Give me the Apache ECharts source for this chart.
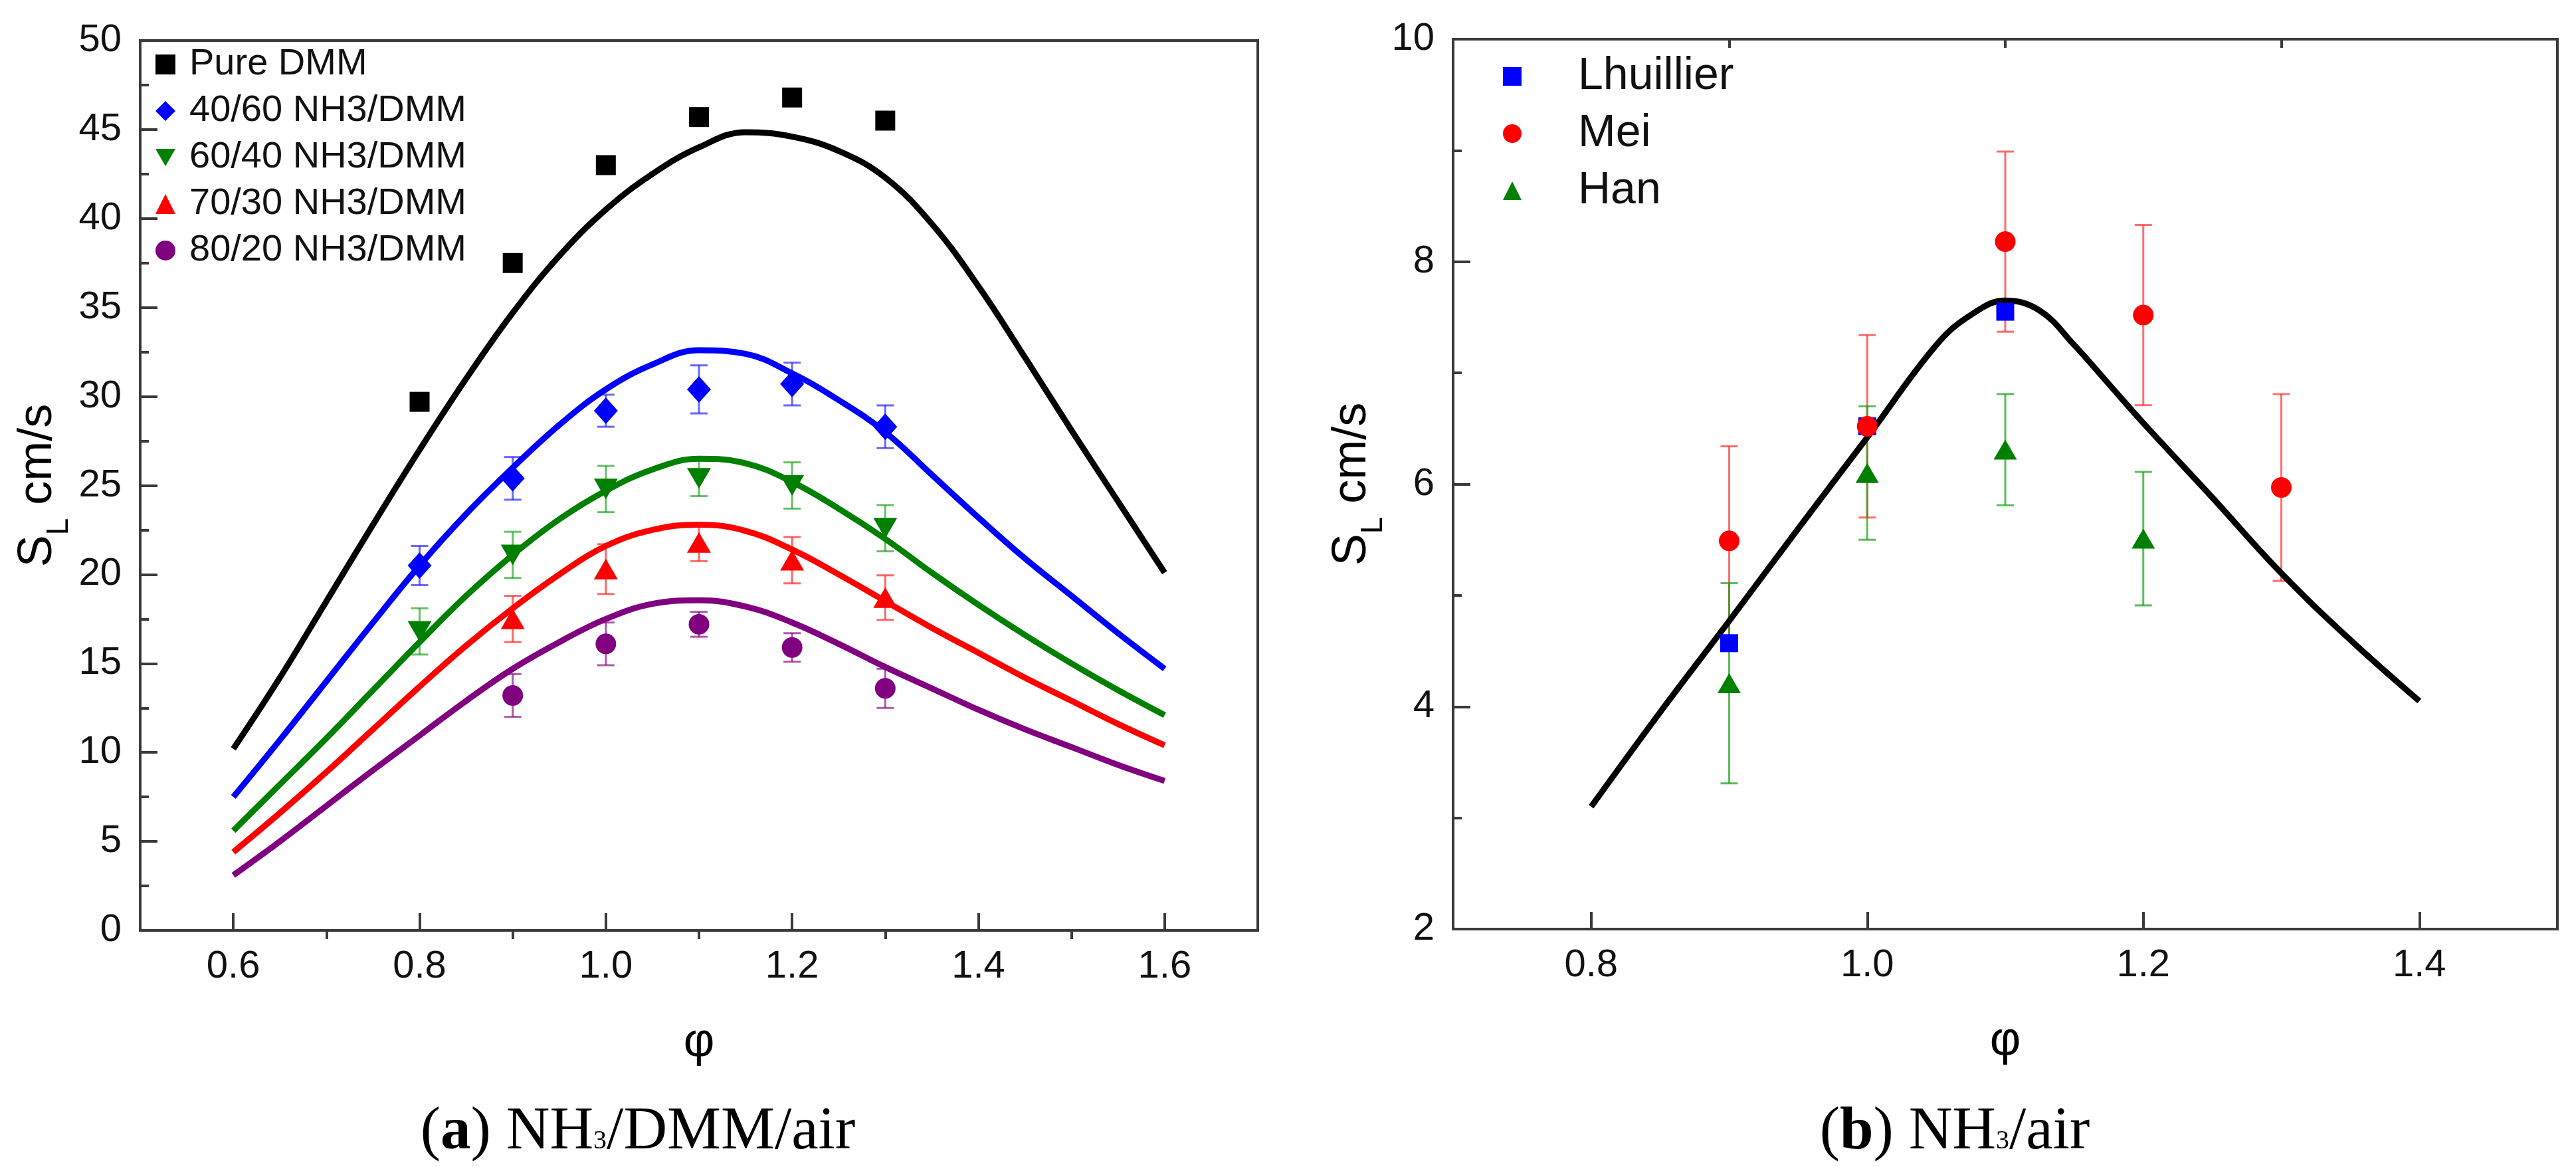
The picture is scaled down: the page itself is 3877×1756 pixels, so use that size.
<!DOCTYPE html>
<html>
<head>
<meta charset="utf-8">
<script src="https://cdn.jsdelivr.net/npm/echarts@6/dist/echarts.min.js"></script>
<style>
  html, body { margin: 0; padding: 0; background: #fff; }
  #chart { width: 3877px; height: 1756px; }
</style>
</head>
<body>
<div id="chart"></div>
<script>
// ---- panel (a): NH3/DMM/air ----
const phiCalcA = [0.60, 0.65, 0.70, 0.75, 0.80, 0.85, 0.90, 0.95, 1.00, 1.05, 1.10, 1.15, 1.20, 1.25, 1.30, 1.35, 1.40, 1.45, 1.50, 1.55, 1.60];
const calcPure  = [10.2, 14.2, 18.5, 22.8, 27.0, 31.0, 34.7, 37.9, 40.5, 42.5, 44.0, 44.85, 44.6, 43.8, 42.3, 39.7, 36.2, 32.2, 28.1, 24.1, 20.1];
const calc4060  = [7.5, 10.7, 14.0, 17.3, 20.5, 23.4, 26.0, 28.4, 30.4, 31.8, 32.6, 32.4, 31.3, 29.8, 28.0, 25.6, 23.2, 20.9, 18.8, 16.7, 14.7];
const calc6040  = [5.6, 8.2, 10.8, 13.5, 16.2, 18.8, 21.1, 23.1, 24.7, 25.9, 26.5, 26.25, 25.2, 23.7, 22.0, 20.1, 18.3, 16.6, 15.0, 13.5, 12.1];
const calc7030  = [4.4, 6.6, 8.9, 11.3, 13.7, 16.0, 18.1, 20.0, 21.6, 22.5, 22.8, 22.45, 21.4, 20.0, 18.5, 17.0, 15.6, 14.2, 12.9, 11.6, 10.4];
const calc8020  = [3.1, 5.0, 7.0, 9.0, 10.95, 12.9, 14.7, 16.2, 17.5, 18.35, 18.55, 18.2, 17.3, 16.1, 14.8, 13.6, 12.4, 11.3, 10.3, 9.3, 8.4];

const phiExpA6 = [0.8, 0.9, 1.0, 1.1, 1.2, 1.3];
const phiExpA5 = [0.9, 1.0, 1.1, 1.2, 1.3];
const expPure  = [29.7, 37.5, 43.0, 45.7, 46.8, 45.5];
const exp4060  = [20.5, 25.4, 29.2, 30.4, 30.7, 28.3];
const err4060  = [1.1, 1.2, 0.9, 1.35, 1.2, 1.2];
const exp6040  = [16.8, 21.1, 24.8, 25.4, 25.0, 22.6];
const err6040  = [1.3, 1.3, 1.3, 1.0, 1.3, 1.3];
const exp7030  = [17.5, 20.3, 21.8, 20.8, 18.7];
const err7030  = [1.3, 1.4, 1.05, 1.3, 1.25];
const exp8020  = [13.2, 16.1, 17.2, 15.9, 13.6];
const err8020  = [1.2, 1.2, 0.7, 0.8, 1.1];

const namesA = ['Pure DMM', '40/60 NH3/DMM', '60/40 NH3/DMM', '70/30 NH3/DMM', '80/20 NH3/DMM'];
const xLabelsA = [0.6, 0.8, 1.0, 1.2, 1.4, 1.6];
const xMinorA  = [0.7, 0.9, 1.1, 1.3, 1.5];

// ---- panel (b): NH3/air ----
const phiCalcB = [0.80, 0.85, 0.90, 0.95, 1.00, 1.05, 1.075, 1.10, 1.125, 1.15, 1.175, 1.20, 1.25, 1.30, 1.35, 1.40];
const calcB    = [3.10, 3.95, 4.77, 5.60, 6.42, 7.25, 7.52, 7.65, 7.56, 7.25, 6.90, 6.55, 5.88, 5.20, 4.60, 4.05];

const phiLhuillier = [0.9, 1.0, 1.1];
const slLhuillier  = [4.57, 6.52, 7.55];
const phiMei = [0.9, 1.0, 1.1, 1.2, 1.3];
const slMei  = [5.49, 6.52, 8.18, 7.52, 5.97];
const errMei = [0.85, 0.82, 0.81, 0.81, 0.84];
const phiHan = [0.9, 1.0, 1.1, 1.2];
const slHan  = [4.21, 6.10, 6.31, 5.51];
const errHan = [0.9, 0.6, 0.5, 0.6];

const namesB = ['Lhuillier', 'Mei', 'Han'];
const xLabelsB = [0.8, 1.0, 1.2, 1.4];
const xMinorB  = [0.9, 1.1, 1.3];

const zip = (xs, ys) => xs.map((x, i) => [x, ys[i]]);
const zip3 = (xs, ys, es) => xs.map((x, i) => [x, ys[i], es[i]]);

const AXIS = '#3a3a3a';
const SANS = 'Liberation Sans';
const SERIF = 'Liberation Serif';
const DOWN_TRI = 'path://M0,0L10,0L5,8.7Z';

function errorBars(color) {
  return function (params, api) {
    const x = api.value(0), y = api.value(1), e = api.value(2);
    const hi = api.coord([x, y + e]);
    const lo = api.coord([x, y - e]);
    const w = 13;
    const st = { stroke: color, lineWidth: 3 };
    return {
      type: 'group',
      children: [
        { type: 'line', shape: { x1: hi[0], y1: hi[1], x2: lo[0], y2: lo[1] }, style: st },
        { type: 'line', shape: { x1: hi[0] - w, y1: hi[1], x2: hi[0] + w, y2: hi[1] }, style: st },
        { type: 'line', shape: { x1: lo[0] - w, y1: lo[1], x2: lo[0] + w, y2: lo[1] }, style: st }
      ]
    };
  };
}

function errSeries(xi, yi, data, color) {
  return {
    type: 'custom', xAxisIndex: xi, yAxisIndex: yi, z: 1,
    renderItem: errorBars(color), data: data,
    encode: { x: 0, y: 1 }, silent: true
  };
}

function calcLine(xi, yi, name, data, color) {
  return {
    type: 'line', name: name, xAxisIndex: xi, yAxisIndex: yi, z: 2,
    data: data, showSymbol: false, smooth: 0.4,
    lineStyle: { color: color, width: 9 }, silent: true
  };
}

function points(xi, yi, name, data, color, symbol, size, z) {
  return {
    type: 'scatter', name: name, xAxisIndex: xi, yAxisIndex: yi, z: z || 3,
    data: data, symbol: symbol, symbolSize: size,
    itemStyle: { color: color, opacity: 1 }, silent: true
  };
}

const ynameRich = {
  s: { fontFamily: SANS, fontSize: 72, lineHeight: 80, verticalAlign: 'top', color: '#000' },
  l: { fontFamily: SANS, fontSize: 46, lineHeight: 46, verticalAlign: 'top', padding: [45, 0, 0, 0], color: '#000' }
};

function mainX(grid, min, max, labels) {
  return {
    type: 'value', gridIndex: grid, min: min, max: max,
    axisLine: { show: true, onZero: false, lineStyle: { color: AXIS, width: 4 } },
    axisTick: { show: true, inside: true, length: 26, customValues: labels, lineStyle: { color: AXIS, width: 4 } },
    axisLabel: { customValues: labels, formatter: v => v.toFixed(1), fontFamily: SANS, fontSize: 58, color: '#111', margin: 26 },
    splitLine: { show: false },
    name: 'φ', nameLocation: 'middle', nameGap: 133,
    nameTextStyle: { fontFamily: SANS, fontSize: 72, color: '#000' }
  };
}

function minorX(grid, min, max, ticks) {
  return {
    type: 'value', gridIndex: grid, min: min, max: max,
    axisLine: { show: false },
    axisTick: { show: true, inside: true, length: 13, customValues: ticks, lineStyle: { color: AXIS, width: 4 } },
    axisLabel: { show: false },
    splitLine: { show: false }
  };
}

function mainY(grid, min, max, interval, gap) {
  return {
    type: 'value', gridIndex: grid, min: min, max: max, interval: interval,
    axisLine: { show: true, onZero: false, lineStyle: { color: AXIS, width: 4 } },
    axisTick: { show: true, inside: true, length: 26, lineStyle: { color: AXIS, width: 4 } },
    minorTick: { show: true, splitNumber: 2, length: 13, lineStyle: { color: AXIS, width: 4 } },
    axisLabel: { fontFamily: SANS, fontSize: 58, color: '#111', margin: 28 },
    splitLine: { show: false },
    name: '{s|S}{l|L}{s| cm/s}', nameLocation: 'middle', nameGap: gap,
    nameTextStyle: { rich: ynameRich }
  };
}

const captionRich = {
  n: { fontFamily: SERIF, fontSize: 91, lineHeight: 104, verticalAlign: 'bottom', color: '#000' },
  a: { fontFamily: SERIF, fontSize: 91, lineHeight: 104, verticalAlign: 'bottom', fontWeight: 'bold', color: '#000' },
  s: { fontFamily: SERIF, fontSize: 40, lineHeight: 40, verticalAlign: 'bottom', padding: [0, 0, 13, 0], color: '#000' }
};

const option = {
  animation: false,
  backgroundColor: '#fff',
  grid: [
    { left: 211, top: 61, width: 1682, height: 1339, show: true, borderColor: AXIS, borderWidth: 4, backgroundColor: 'transparent' },
    { left: 2187, top: 59, width: 1662, height: 1339, show: true, borderColor: AXIS, borderWidth: 4, backgroundColor: 'transparent' }
  ],
  xAxis: [
    mainX(0, 0.5, 1.7, xLabelsA),
    minorX(0, 0.5, 1.7, xMinorA),
    mainX(1, 0.7, 1.5, xLabelsB),
    minorX(1, 0.7, 1.5, xMinorB)
  ],
  yAxis: [
    mainY(0, 0, 50, 5, 110),
    mainY(1, 2, 10, 2, 106)
  ],
  legend: [
    {
      data: namesA, orient: 'vertical', left: 229, top: 64,
      itemWidth: 30, itemHeight: 30, itemGap: 14, selectedMode: false,
      textStyle: { fontFamily: SANS, fontSize: 56, lineHeight: 56, color: '#111', padding: [0, 0, 0, 16] }
    },
    {
      data: namesB, orient: 'vertical', left: 2257, top: 76,
      itemWidth: 28, itemHeight: 28, itemGap: 18, selectedMode: false,
      textStyle: { fontFamily: SANS, fontSize: 68, lineHeight: 68, color: '#111', padding: [0, 0, 0, 80] }
    }
  ],
  graphic: [
    {
      type: 'text', x: 960, y: 1698, silent: true,
      style: { text: '{n|(}{a|a}{n|) NH}{s|3}{n|/DMM/air}', rich: captionRich, align: 'center', verticalAlign: 'middle' }
    },
    {
      type: 'text', x: 2942, y: 1698, silent: true,
      style: { text: '{n|(}{a|b}{n|) NH}{s|3}{n|/air}', rich: captionRich, align: 'center', verticalAlign: 'middle' }
    }
  ],
  series: [
    // panel (a)
    errSeries(0, 0, zip3(phiExpA6, exp4060, err4060), 'rgba(40,40,255,0.7)'),
    errSeries(0, 0, zip3(phiExpA6, exp6040, err6040), 'rgba(0,150,0,0.6)'),
    errSeries(0, 0, zip3(phiExpA5, exp7030, err7030), 'rgba(255,40,40,0.7)'),
    errSeries(0, 0, zip3(phiExpA5, exp8020, err8020), 'rgba(128,0,128,0.65)'),
    calcLine(0, 0, 'calc Pure', zip(phiCalcA, calcPure), '#000000'),
    calcLine(0, 0, 'calc 40/60', zip(phiCalcA, calc4060), '#0000ff'),
    calcLine(0, 0, 'calc 60/40', zip(phiCalcA, calc6040), '#008000'),
    calcLine(0, 0, 'calc 70/30', zip(phiCalcA, calc7030), '#ff0000'),
    calcLine(0, 0, 'calc 80/20', zip(phiCalcA, calc8020), '#800080'),
    points(0, 0, namesA[0], zip(phiExpA6, expPure), '#000000', 'rect', 30),
    points(0, 0, namesA[1], zip(phiExpA6, exp4060), '#0000ff', 'diamond', [36, 40]),
    points(0, 0, namesA[2], zip(phiExpA6, exp6040), '#008000', DOWN_TRI, [36, 31]),
    points(0, 0, namesA[3], zip(phiExpA5, exp7030), '#ff0000', 'triangle', [36, 31]),
    points(0, 0, namesA[4], zip(phiExpA5, exp8020), '#800080', 'circle', 31),
    // panel (b)
    errSeries(2, 1, zip3(phiMei, slMei, errMei), 'rgba(255,50,50,0.7)'),
    errSeries(2, 1, zip3(phiHan, slHan, errHan), 'rgba(20,160,20,0.7)'),
    calcLine(2, 1, 'calc NH3', zip(phiCalcB, calcB), '#000000'),
    points(2, 1, namesB[0], zip(phiLhuillier, slLhuillier), '#0000ff', 'rect', 27, 3),
    points(2, 1, namesB[1], zip(phiMei, slMei), '#ff0000', 'circle', 31, 4),
    points(2, 1, namesB[2], zip(phiHan, slHan), '#008000', 'triangle', [35, 30], 5)
  ]
};

const chart = echarts.init(document.getElementById('chart'));
chart.setOption(option);
</script>
</body>
</html>
